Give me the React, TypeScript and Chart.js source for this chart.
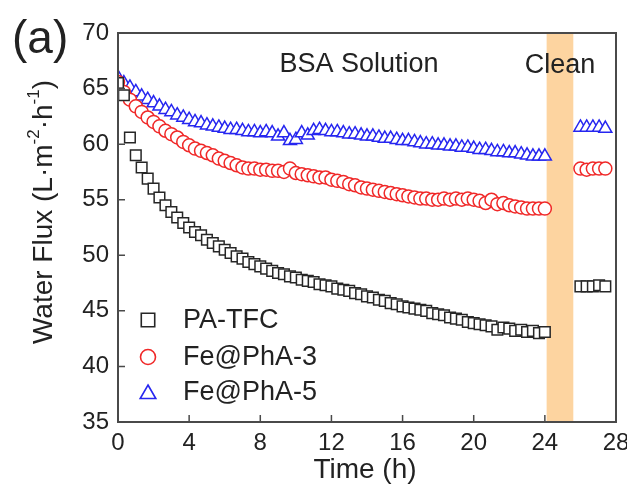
import React, { useEffect, useRef } from "react";
import { Chart, registerables } from "chart.js";

Chart.register(...registerables);

// ---------- data ----------
const TIMES = [
  0, 0.33, 0.67, 1, 1.33, 1.67, 2, 2.33, 2.67, 3, 3.33, 3.67,
  4, 4.33, 4.67, 5, 5.33, 5.67, 6, 6.33, 6.67, 7, 7.33, 7.67,
  8, 8.33, 8.67, 9, 9.33, 9.67, 10, 10.33, 10.67, 11, 11.33, 11.67,
  12, 12.33, 12.67, 13, 13.33, 13.67, 14, 14.33, 14.67, 15, 15.33, 15.67,
  16, 16.33, 16.67, 17, 17.33, 17.67, 18, 18.33, 18.67, 19, 19.33, 19.67,
  20, 20.33, 20.67, 21, 21.33, 21.67, 22, 22.33, 22.67, 23, 23.33, 23.67, 24,
];

const PA_TFC = [
  65.5, 64.4, 60.6, 59.0, 57.9, 56.9, 56.0, 55.2, 54.5, 53.9, 53.4, 52.9,
  52.5, 52.1, 51.8, 51.4, 51.1, 50.8, 50.5, 50.2, 49.9, 49.7, 49.4, 49.2,
  49.0, 48.8, 48.6, 48.4, 48.3, 48.1, 48.0, 47.8, 47.7, 47.6, 47.4, 47.3,
  47.2, 47.0, 46.9, 46.8, 46.6, 46.5, 46.3, 46.2, 46.0, 45.9, 45.7, 45.6,
  45.4, 45.3, 45.2, 45.1, 45.0, 44.8, 44.7, 44.6, 44.4, 44.3, 44.2, 44.0,
  43.9, 43.8, 43.7, 43.6, 43.3, 43.5, 43.4, 43.2, 43.3, 43.1, 43.2, 43.0, 43.1,
];

const FE_PHA_3 = [
  65.6, 64.7, 64.0, 63.4, 62.9, 62.4, 62.0, 61.6, 61.2, 60.9, 60.6, 60.2,
  59.9, 59.6, 59.4, 59.2, 59.0, 58.7, 58.5, 58.3, 58.1, 57.9, 57.8, 57.8,
  57.7, 57.7, 57.6, 57.6, 57.5, 57.8, 57.4, 57.3, 57.2, 57.1, 57.0, 57.0,
  56.8, 56.7, 56.6, 56.4, 56.3, 56.1, 56.0, 55.9, 55.8, 55.7, 55.6, 55.5,
  55.4, 55.3, 55.2, 55.1, 55.1, 55.0, 55.0, 55.1, 55.0, 55.1, 55.0, 55.1,
  55.0, 54.9, 54.7, 55.0, 54.6, 54.7, 54.5, 54.4, 54.3, 54.2, 54.2, 54.2, 54.2,
];

const FE_PHA_5 = [
  66.0, 65.5, 65.1, 64.7, 64.3, 64.0, 63.7, 63.4, 63.1, 62.9, 62.6, 62.4,
  62.2, 62.0, 61.9, 61.7, 61.6, 61.5, 61.4, 61.3, 61.3, 61.2, 61.1, 61.1,
  61.0, 61.1, 61.0, 60.7, 61.0, 60.3, 60.4, 61.0, 60.8, 61.2, 61.3, 61.2,
  61.1, 61.1, 61.0, 60.9, 60.9, 60.8, 60.7, 60.7, 60.6, 60.5, 60.5, 60.4,
  60.3, 60.3, 60.2, 60.1, 60.0, 60.0, 59.9, 59.9, 59.8, 59.8, 59.7, 59.7,
  59.6, 59.5, 59.5, 59.4, 59.3, 59.3, 59.2, 59.2, 59.1, 59.0, 58.9, 58.9, 58.9,
];

const CLEAN_TIMES = [26.0, 26.35, 26.7, 27.05, 27.4];
const PA_TFC_CLEAN = [47.2, 47.2, 47.2, 47.3, 47.2];
const FE_PHA_3_CLEAN = [57.8, 57.7, 57.8, 57.8, 57.8];
const FE_PHA_5_CLEAN = [61.5, 61.5, 61.5, 61.5, 61.4];

const SERIES_NAMES = ["PA-TFC", "Fe@PhA-3", "Fe@PhA-5"];
const X_TICKS = [0, 4, 8, 12, 16, 20, 24, 28];
const Y_TICKS = [35, 40, 45, 50, 55, 60, 65, 70];
const CLEAN_BAND = [24.1, 25.6];
const REGION_LABELS = ["BSA Solution", "Clean"];

// ---------- styles ----------
const FONT = "Arial, 'Liberation Sans', sans-serif";
const TEXT_COLOR = "#222";
const FRAME_COLOR = "#4a4a4a";
const BAND_COLOR = "rgb(253, 212, 160)";
const COLORS = ["#262626", "#f02828", "#2626f0"];
const STYLES = ["rect", "circle", "triangle"];
const RADII = [7.5, 6.5, 7.5];

function toPoints(xs: number[], ys: number[]) {
  return xs.map((x, i) => ({ x, y: ys[i] }));
}

function drawMarker(ctx: CanvasRenderingContext2D, style: string, x: number, y: number, r: number) {
  ctx.beginPath();
  if (style === "rect") {
    const s = r * Math.SQRT1_2;
    ctx.rect(x - s, y - s, 2 * s, 2 * s);
  } else if (style === "circle") {
    ctx.arc(x, y, r, 0, Math.PI * 2);
  } else {
    const h = r;
    ctx.moveTo(x, y - h);
    ctx.lineTo(x + h * Math.sin((2 * Math.PI) / 3), y - h * Math.cos((2 * Math.PI) / 3));
    ctx.lineTo(x + h * Math.sin((4 * Math.PI) / 3), y - h * Math.cos((4 * Math.PI) / 3));
    ctx.closePath();
  }
  ctx.fill();
  ctx.stroke();
}

const decorPlugin = {
  id: "decor",
  beforeDatasetsDraw(chart: any) {
    const { ctx, chartArea, scales } = chart;
    const x0 = scales.x.getPixelForValue(CLEAN_BAND[0]);
    const x1 = scales.x.getPixelForValue(CLEAN_BAND[1]);
    ctx.save();
    ctx.fillStyle = BAND_COLOR;
    ctx.fillRect(x0, chartArea.top, x1 - x0, chartArea.bottom - chartArea.top);
    ctx.restore();
  },
  afterDraw(chart: any) {
    const { ctx, chartArea, scales } = chart;
    const { left, right, top, bottom } = chartArea;
    ctx.save();
    // frame
    ctx.strokeStyle = FRAME_COLOR;
    ctx.lineWidth = 2;
    ctx.strokeRect(left, top, right - left, bottom - top);
    // inward ticks
    ctx.lineWidth = 1.5;
    ctx.beginPath();
    X_TICKS.forEach((t) => {
      const px = scales.x.getPixelForValue(t);
      ctx.moveTo(px, bottom);
      ctx.lineTo(px, bottom - 7);
    });
    Y_TICKS.forEach((t) => {
      const py = scales.y.getPixelForValue(t);
      ctx.moveTo(left, py);
      ctx.lineTo(left + 7, py);
    });
    ctx.stroke();

    ctx.fillStyle = TEXT_COLOR;
    // panel label
    ctx.font = `46px ${FONT}`;
    ctx.textAlign = "left";
    ctx.textBaseline = "alphabetic";
    ctx.fillText("(a)", 12, 53);

    // region labels
    ctx.font = `27px ${FONT}`;
    ctx.textAlign = "center";
    ctx.fillText(REGION_LABELS[0], 359, 72);
    ctx.fillText(REGION_LABELS[1], 560, 73);

    // x title
    ctx.font = `28px ${FONT}`;
    ctx.textBaseline = "middle";
    ctx.fillText("Time (h)", 365, 470);

    // y title with superscripts
    const segs: [string, boolean][] = [
      ["Water Flux (L·m", false],
      ["-2", true],
      ["·h", false],
      ["-1", true],
      [")", false],
    ];
    const big = `28px ${FONT}`;
    const small = `17px ${FONT}`;
    let total = 0;
    segs.forEach(([s, sup]) => {
      ctx.font = sup ? small : big;
      total += ctx.measureText(s).width;
    });
    ctx.translate(44, 212);
    ctx.rotate(-Math.PI / 2);
    ctx.textAlign = "left";
    let cx = -total / 2;
    segs.forEach(([s, sup]) => {
      ctx.font = sup ? small : big;
      ctx.fillText(s, cx, sup ? -10 : 0);
      cx += ctx.measureText(s).width;
    });
    ctx.setTransform(1, 0, 0, 1, 0, 0);

    // legend
    const rows = [320, 357, 392];
    const legR = [9.5, 7.5, 9];
    SERIES_NAMES.forEach((name, i) => {
      ctx.strokeStyle = COLORS[i];
      ctx.fillStyle = "#fff";
      ctx.lineWidth = 1.6;
      drawMarker(ctx, STYLES[i], 148, rows[i] + (STYLES[i] === "triangle" ? 2 : 0), legR[i]);
      ctx.fillStyle = TEXT_COLOR;
      ctx.font = `27px ${FONT}`;
      ctx.textAlign = "left";
      ctx.textBaseline = "middle";
      ctx.fillText(name, 183, rows[i] + 1);
    });
    ctx.restore();
  },
};

export default function App() {
  const ref = useRef<HTMLCanvasElement | null>(null);

  useEffect(() => {
    if (!ref.current) return;
    const mains = [PA_TFC, FE_PHA_3, FE_PHA_5];
    const cleans = [PA_TFC_CLEAN, FE_PHA_3_CLEAN, FE_PHA_5_CLEAN];
    const chart = new Chart(ref.current, {
      type: "scatter",
      data: {
        datasets: SERIES_NAMES.map((name, i) => ({
          label: name,
          data: toPoints(TIMES, mains[i]).concat(toPoints(CLEAN_TIMES, cleans[i])),
          pointStyle: STYLES[i] as any,
          pointRadius: RADII[i],
          pointBorderWidth: 1.5,
          borderColor: COLORS[i],
          pointBorderColor: COLORS[i],
          pointBackgroundColor: "#ffffff",
          backgroundColor: "#ffffff",
          showLine: false,
        })),
      },
      options: {
        animation: false,
        responsive: false,
        devicePixelRatio: 1,
        layout: { padding: { top: 33, right: 11, left: 0, bottom: 0 } },
        plugins: {
          legend: { display: false },
          tooltip: { enabled: false },
        },
        scales: {
          x: {
            type: "linear",
            min: 0,
            max: 28,
            grid: { display: false, drawTicks: false },
            border: { display: false },
            ticks: {
              stepSize: 4,
              padding: 7,
              color: TEXT_COLOR,
              font: { family: FONT, size: 24 },
              maxRotation: 0,
            },
            afterFit: (s: any) => {
              s.height = 65;
              s.paddingLeft = 0;
              s.paddingRight = 0;
            },
          },
          y: {
            type: "linear",
            min: 35,
            max: 70,
            grid: { display: false, drawTicks: false },
            border: { display: false },
            ticks: {
              stepSize: 5,
              padding: 9,
              color: TEXT_COLOR,
              font: { family: FONT, size: 24 },
            },
            afterFit: (s: any) => {
              s.width = 118;
              s.paddingTop = 0;
              s.paddingBottom = 0;
            },
          },
        },
      },
      plugins: [decorPlugin],
    });
    return () => chart.destroy();
  }, []);

  return (
    <div style={{ position: "absolute", left: 0, top: 0, width: 627, height: 487, background: "#fff" }}>
      <canvas ref={ref} width={627} height={487} style={{ width: 627, height: 487 }} />
    </div>
  );
}
